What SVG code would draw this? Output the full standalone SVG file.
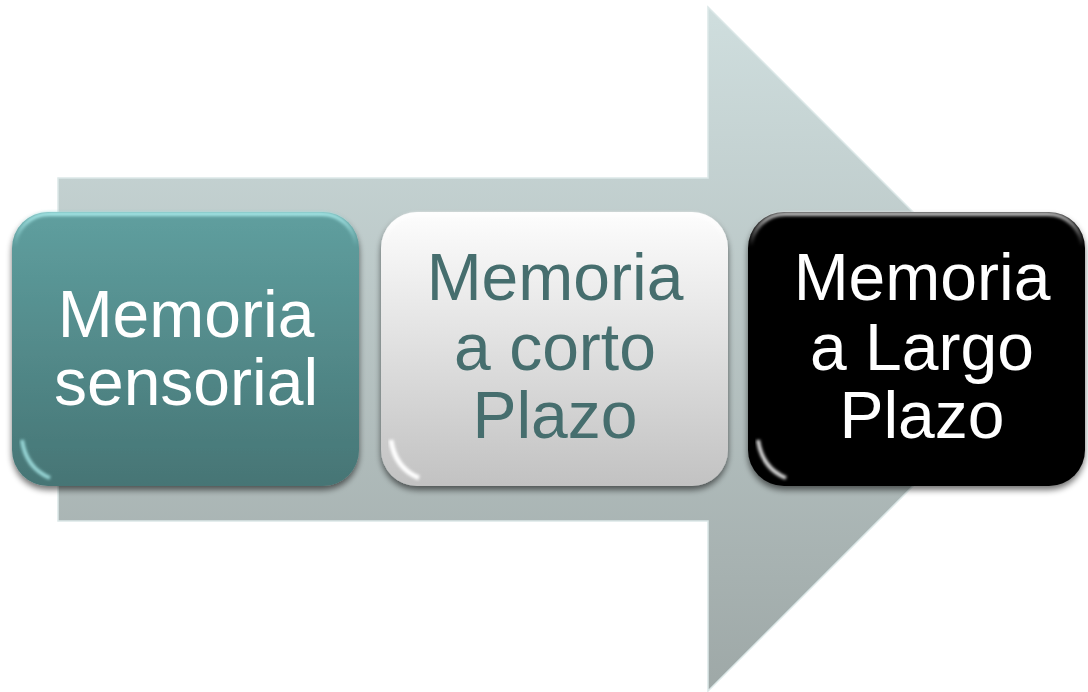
<svg xmlns="http://www.w3.org/2000/svg" width="1088" height="692" viewBox="0 0 1088 692">
<defs>
<linearGradient id="arrowG" x1="0" y1="0" x2="0" y2="1">
<stop offset="0" stop-color="#cfdede"/>
<stop offset="1" stop-color="#9ea8a7"/>
</linearGradient>
<linearGradient id="tealG" x1="0" y1="0" x2="0" y2="1">
<stop offset="0" stop-color="#5f9f9f"/>
<stop offset="1" stop-color="#467575"/>
</linearGradient>
<linearGradient id="whiteG" x1="0" y1="0" x2="0" y2="1">
<stop offset="0" stop-color="#fdfdfd"/>
<stop offset="1" stop-color="#c2c2c2"/>
</linearGradient>
<linearGradient id="blackG" x1="0" y1="0" x2="0" y2="1">
<stop offset="0" stop-color="#050505"/>
<stop offset="1" stop-color="#000000"/>
</linearGradient>
<linearGradient id="glossTop" x1="0" y1="0" x2="0" y2="1">
<stop offset="0" stop-color="#ffffff" stop-opacity="0.75"/>
<stop offset="0.12" stop-color="#ffffff" stop-opacity="0"/>
<stop offset="1" stop-color="#ffffff" stop-opacity="0"/>
</linearGradient>
<linearGradient id="glossTopTeal" x1="0" y1="0" x2="0" y2="1">
<stop offset="0" stop-color="#aef0f0" stop-opacity="0.9"/>
<stop offset="0.12" stop-color="#aef0f0" stop-opacity="0"/>
<stop offset="1" stop-color="#aef0f0" stop-opacity="0"/>
</linearGradient>
<filter id="shadow" x="-10%" y="-10%" width="120%" height="125%">
<feGaussianBlur in="SourceAlpha" stdDeviation="3"/>
<feOffset dx="0" dy="4" result="b"/>
<feComponentTransfer><feFuncA type="linear" slope="0.55"/></feComponentTransfer>
<feMerge><feMergeNode/><feMergeNode in="SourceGraphic"/></feMerge>
</filter>
<filter id="soft" x="-10%" y="-10%" width="120%" height="120%">
<feGaussianBlur stdDeviation="1.5"/>
</filter>
</defs>
<style>
text { font-family: "Liberation Sans", Arial, sans-serif; font-size: 66px; text-anchor: middle; }
.light { fill: #ffffff; }
.dark { fill: #466e6e; }
</style>

<g id="arrow">
<path d="M58,178 L708,178 L708,7 L1050,349 L708,691 L708,521 L58,521 Z" fill="url(#arrowG)" stroke="#dce8e8" stroke-width="1.5"/>
</g>

<g id="connectors"></g>

<g id="node-sensorial">
<rect x="12" y="212" width="347" height="274" rx="36" fill="url(#tealG)" filter="url(#shadow)"/>
<rect x="15" y="214" width="341" height="268" rx="34" fill="none" stroke="url(#glossTopTeal)" stroke-width="4" filter="url(#soft)"/>
<path d="M22,440 Q26,468 50,478" fill="none" stroke="#aef0f0" stroke-opacity="0.8" stroke-width="4" filter="url(#soft)"/>
<text class="light" x="186" y="337">Memoria</text>
<text class="light" x="186" y="405">sensorial</text>
</g>

<g id="node-corto">
<rect x="381" y="212" width="347" height="274" rx="36" fill="url(#whiteG)" filter="url(#shadow)"/>
<rect x="384" y="214" width="341" height="268" rx="34" fill="none" stroke="url(#glossTop)" stroke-width="4" filter="url(#soft)"/>
<path d="M391,440 Q395,468 419,478" fill="none" stroke="#ffffff" stroke-width="5" filter="url(#soft)"/>
<text class="dark" x="555" y="300">Memoria</text>
<text class="dark" x="555" y="370">a corto</text>
<text class="dark" x="555" y="438">Plazo</text>
</g>

<g id="node-largo">
<rect x="748" y="212" width="337" height="274" rx="36" fill="url(#blackG)" filter="url(#shadow)"/>
<rect x="751" y="214" width="331" height="268" rx="34" fill="none" stroke="url(#glossTop)" stroke-width="4" filter="url(#soft)"/>
<path d="M758,440 Q762,468 786,478" fill="none" stroke="#ffffff" stroke-opacity="0.85" stroke-width="4" filter="url(#soft)"/>
<text class="light" x="922" y="300">Memoria</text>
<text class="light" x="922" y="370">a Largo</text>
<text class="light" x="922" y="438">Plazo</text>
</g>
</svg>
